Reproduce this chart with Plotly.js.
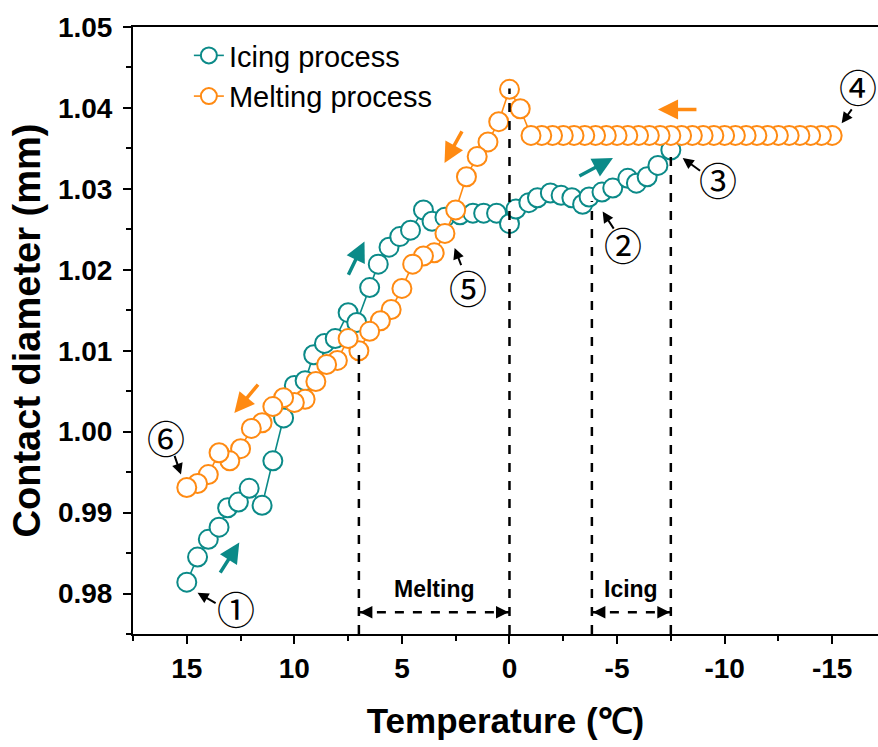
<!DOCTYPE html>
<html>
<head>
<meta charset="utf-8">
<script src="https://cdn.plot.ly/plotly-3.0.1.min.js"></script>
<style>html,body{margin:0;padding:0;background:#fff;}#chart{width:878px;height:747px;}</style>
</head>
<body>
<div id="chart"></div>
<script>
// ---- Icing process (teal) ----
const icingT = [15.0,14.5,14.0,13.5,13.1,12.6,12.1,11.5,11.0,10.5,10.0,9.5,9.1,8.6,8.1,7.5,7.1,6.5,6.1,5.6,5.1,4.6,4.0,3.6,3.0,2.3,1.7,1.2,0.6,0.0,-0.3,-0.9,-1.3,-1.9,-2.4,-2.9,-3.4,-3.7,-4.3,-4.8,-5.5,-5.9,-6.4,-6.9,-7.5];
const icingD = [0.9814,0.9845,0.9867,0.9882,0.9906,0.9913,0.9930,0.9909,0.9964,1.0017,1.0057,1.0063,1.0095,1.0109,1.0115,1.0147,1.0135,1.0178,1.0207,1.0228,1.0241,1.0249,1.0274,1.0260,1.0265,1.0268,1.0270,1.0270,1.0270,1.0257,1.0275,1.0283,1.0289,1.0295,1.0292,1.0289,1.0281,1.0290,1.0296,1.0301,1.0313,1.0307,1.0315,1.0329,1.0348];

// ---- Melting process (orange), recorded from -15 back to 15 ----
const meltT = [-15,-14.5,-14,-13.5,-13,-12.5,-12,-11.5,-11,-10.5,-10,-9.5,-9,-8.5,-8,-7.5,-7,-6.5,-6,-5.5,-5,-4.5,-4,-3.5,-3,-2.5,-2,-1.5,-1,-0.5,0,0.5,1,1.5,2,2.5,3,3.5,4,4.5,5,5.5,6,6.5,7,7.5,8,8.5,9,9.5,10,10.5,11,11.5,12,12.5,13,13.5,14,14.5,15];
const meltD = [1.0366,1.0366,1.0366,1.0366,1.0366,1.0366,1.0366,1.0366,1.0366,1.0366,1.0366,1.0366,1.0366,1.0366,1.0366,1.0366,1.0366,1.0366,1.0366,1.0366,1.0366,1.0366,1.0366,1.0366,1.0366,1.0366,1.0366,1.0366,1.0366,1.0399,1.0423,1.0383,1.0358,1.0340,1.0315,1.0274,1.0245,1.0221,1.0217,1.0207,1.0177,1.0151,1.0137,1.0124,1.0100,1.0115,1.0088,1.0083,1.0062,1.0040,1.0036,1.0042,1.0031,1.0011,1.0004,0.9979,0.9964,0.9974,0.9947,0.9936,0.9931];

// ---- axis ticks ----
const xTicks = [15,10,5,0,-5,-10,-15];
const yTicks = [0.98,0.99,1.00,1.01,1.02,1.03,1.04,1.05];

// ---- stage markers (circled numbers) ----
const stageLabels = ['①','②','③','④','⑤','⑥'];
const stageTextT = [12.7,-5.26,-9.67,-16.2,1.95,15.97];
const stageTextD = [0.9783,1.0233,1.0313,1.0428,1.0179,0.9994];
const stageHeadT = [14.5,-4.33,-8.05,-15.44,2.55,15.27];
const stageHeadD = [0.9801,1.0272,1.0338,1.0381,1.0227,0.9947];
const stageTailT = [13.59,-4.89,-8.93,-15.96,2.22,15.59];
const stageTailD = [0.9787,1.0249,1.0321,1.0400,1.0204,0.9972];

// ---- direction arrows ----
const dirHeadT = [12.56,6.74,-4.81,12.79,3.02,-6.9];
const dirHeadD = [0.9863,1.0235,1.0338,1.0023,1.0332,1.0398];
const dirTailT = [13.49,7.52,-3.18,11.63,2.17,-8.76];
const dirTailD = [0.9824,1.0192,1.0315,1.0060,1.0373,1.0398];
const dirSeries = ['icing','icing','icing','melt','melt','melt'];

// ---- guide lines and ranges ----
const guideT = [7,0,-3.83,-7.5];
const guideTopD = [1.0098,1.0424,1.0285,1.0345];
const rangeNames = ['Melting','Icing'];
const rangeStart = [7,-3.83];
const rangeEnd = [0,-7.5];
const rangeD = 0.9777;
const rangeTextD = 0.9806;

const TEAL = '#0b8a88';
const ORANGE = '#ff8a12';
const FONT = 'Liberation Sans, Arial, sans-serif';
const colorOf = {icing: TEAL, melt: ORANGE};

const traces = [
  {x: icingT, y: icingD, name: 'Icing process', type: 'scatter', mode: 'lines+markers',
   line: {color: TEAL, width: 1.6},
   marker: {symbol: 'circle', size: 19, color: '#ffffff', line: {color: TEAL, width: 2}}},
  {x: meltT, y: meltD, name: 'Melting process', type: 'scatter', mode: 'lines+markers',
   line: {color: ORANGE, width: 1.6},
   marker: {symbol: 'circle', size: 19, color: '#ffffff', line: {color: ORANGE, width: 2}}}
];

const annotations = [];
const shapes = [];

stageLabels.forEach((s, i) => {
  annotations.push({x: stageTextT[i], y: stageTextD[i], xref: 'x', yref: 'y', text: s, showarrow: false,
    font: {family: 'Noto Sans CJK SC, DejaVu Sans, sans-serif', size: 38, color: '#000'}});
  annotations.push({x: stageHeadT[i], y: stageHeadD[i], ax: stageTailT[i], ay: stageTailD[i],
    xref: 'x', yref: 'y', axref: 'x', ayref: 'y', text: '', showarrow: true,
    arrowhead: 2, arrowsize: 1.1, arrowwidth: 2, arrowcolor: '#000', standoff: 0});
});

dirHeadT.forEach((t, i) => {
  annotations.push({x: t, y: dirHeadD[i], ax: dirTailT[i], ay: dirTailD[i],
    xref: 'x', yref: 'y', axref: 'x', ayref: 'y', text: '', showarrow: true,
    arrowhead: 2, arrowsize: 1.15, arrowwidth: 3.5, arrowcolor: colorOf[dirSeries[i]], standoff: 0});
});

guideT.forEach((t, i) => {
  shapes.push({type: 'line', xref: 'x', yref: 'y', x0: t, x1: t, y0: 0.975, y1: guideTopD[i],
    line: {color: '#000', width: 2.5, dash: 'dash'}, layer: 'above'});
});

rangeNames.forEach((n, i) => {
  shapes.push({type: 'line', xref: 'x', yref: 'y', x0: rangeStart[i], x1: rangeEnd[i], y0: rangeD, y1: rangeD,
    line: {color: '#000', width: 2.5, dash: 'dash'}, layer: 'above'});
  annotations.push({x: rangeStart[i], y: rangeD, xref: 'x', yref: 'y', ax: 14, ay: 0, text: '', showarrow: true,
    arrowhead: 2, arrowsize: 1, arrowwidth: 2.5, arrowcolor: '#000', standoff: 1});
  annotations.push({x: rangeEnd[i], y: rangeD, xref: 'x', yref: 'y', ax: -14, ay: 0, text: '', showarrow: true,
    arrowhead: 2, arrowsize: 1, arrowwidth: 2.5, arrowcolor: '#000', standoff: 1});
  annotations.push({x: (rangeStart[i] + rangeEnd[i]) / 2, y: rangeTextD, xref: 'x', yref: 'y', text: '<b>' + n + '</b>',
    showarrow: false, font: {family: FONT, size: 23, color: '#000'}});
});

const layout = {
  width: 878, height: 747,
  margin: {l: 133, r: 0, t: 27, b: 113},
  paper_bgcolor: '#fff', plot_bgcolor: '#fff',
  font: {family: FONT, color: '#000'},
  showlegend: true,
  legend: {x: 0.075, y: 0.995, xanchor: 'left', yanchor: 'top', bgcolor: 'rgba(0,0,0,0)',
    font: {family: FONT, size: 29, color: '#000'}, tracegroupgap: 0},
  xaxis: {
    range: [17.5, -17.13], tickvals: xTicks, ticktext: xTicks.map(String),
    showgrid: false, zeroline: false, showline: true, linecolor: '#000', linewidth: 2, mirror: true,
    ticks: 'outside', ticklen: 8, tickwidth: 2, tickcolor: '#000',
    minor: {ticks: 'outside', ticklen: 5, tickwidth: 2, tickcolor: '#000', dtick: 2.5, tick0: 2.5, showgrid: false},
    tickfont: {family: FONT, size: 28, color: '#000', weight: 'bold'},
    title: {text: '<b>Temperature (℃)</b>', font: {family: FONT, size: 35, color: '#000'}, standoff: 26}
  },
  yaxis: {
    range: [0.975, 1.05], tickvals: yTicks, ticktext: yTicks.map(v => v.toFixed(2)),
    showgrid: false, zeroline: false, showline: true, linecolor: '#000', linewidth: 2, mirror: false,
    ticks: 'outside', ticklen: 8, tickwidth: 2, tickcolor: '#000', ticklabelstandoff: 5,
    minor: {ticks: 'outside', ticklen: 5, tickwidth: 2, tickcolor: '#000', dtick: 0.005, tick0: 0.975, showgrid: false},
    tickfont: {family: FONT, size: 28, color: '#000', weight: 'bold'},
    title: {text: '<b>Contact diameter (mm)</b>', font: {family: FONT, size: 38, color: '#000'}, standoff: 6}
  },
  annotations: annotations,
  shapes: shapes
};

Plotly.newPlot('chart', traces, layout, {displayModeBar: false, staticPlot: true});
</script>
</body>
</html>
